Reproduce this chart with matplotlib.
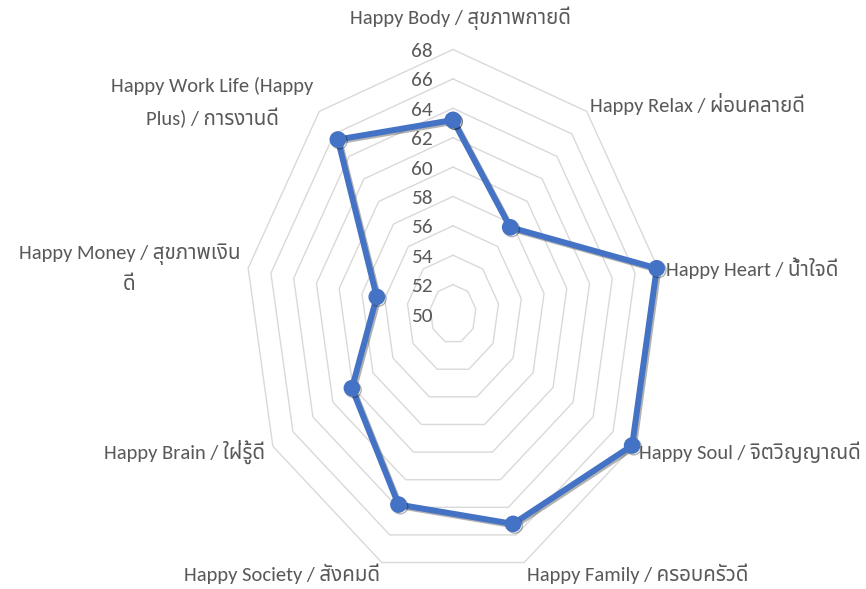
import numpy as np
import matplotlib
matplotlib.use('Agg')
import matplotlib.pyplot as plt
import matplotlib.patheffects as pe

categories = ["Happy Body / สุขภาพกายดี", "Happy Relax / ผ่อนคลายดี", "Happy Heart / น้ำใจดี",
              "Happy Soul / จิตวิญญาณดี", "Happy Family / ครอบครัวดี", "Happy Society / สังคมดี",
              "Happy Brain / ใฝ่รู้ดี", "Happy Money / สุขภาพเงิน\nดี", "Happy Work Life (Happy\nPlus) / การงานดี"]
values = [63.2, 57.7, 67.9, 67.9, 65.2, 63.8, 60.1, 56.7, 65.5]
ticks = [50, 52, 54, 56, 58, 60, 62, 64, 66, 68]

W, H = 866, 589
cx, cy, rx, ry = 453, 314, 208, 264.5
fig = plt.figure(figsize=(W/100, H/100), dpi=100)
ax = fig.add_axes([0, 0, 1, 1])
ax.set_xlim(-cx/rx, (W-cx)/rx)
ax.set_ylim(-(H-cy)/ry, cy/ry)
ax.axis('off')

n = len(categories)
theta = np.deg2rad(np.arange(n) * 360 / n)
vmin, vmax = ticks[0], ticks[-1]

def xy(v, th):
    r = (np.asarray(v) - vmin) / (vmax - vmin)
    return r * np.sin(th), r * np.cos(th)

th_closed = np.append(theta, theta[0])
for t in ticks[1:]:
    x, y = xy(np.full(n + 1, t), th_closed)
    ax.plot(x, y, color='#d9d9d9', lw=1.0, zorder=1)

vals = np.append(values, values[0])
x, y = xy(vals, th_closed)
ax.plot(x, y, color='#4472C4', lw=4.3, marker='o', ms=11, zorder=3,
        path_effects=[pe.SimpleLineShadow(offset=(1.2, -1.2), alpha=0.3), pe.Normal()])

fam = ['Carlito', 'Noto Sans Thai', 'DejaVu Sans']
txtc = '#595959'
fs = 14.8
for t in ticks:
    x, y = xy(t, 0.0)
    ax.annotate(str(t), (x, y), xytext=(-20*0.72, -2*0.72), textcoords='offset points',
                ha='right', va='center', fontsize=15.3, color=txtc, family=fam)

# label layout: (ha, dx, dy) in pixels relative to outer vertex
layout = [('center', 7, 31), ('left', 3, 7), ('left', 8, 0),
          ('left', 6, -6), ('left', 3, -11), ('right', -2, -11),
          ('right', -8, -6), ('right', -8, 0), ('right', -6, 9)]
for lab, th, (ha, dx, dy) in zip(categories, theta, layout):
    x, y = xy(vmax, th)
    ax.annotate(lab, (x, y), xytext=(dx*0.72, dy*0.72), textcoords='offset points',
                ha=ha, va='center', fontsize=fs, color=txtc, family=fam,
                multialignment='center', linespacing=1.75)

fig.savefig('out.png', dpi=100)
